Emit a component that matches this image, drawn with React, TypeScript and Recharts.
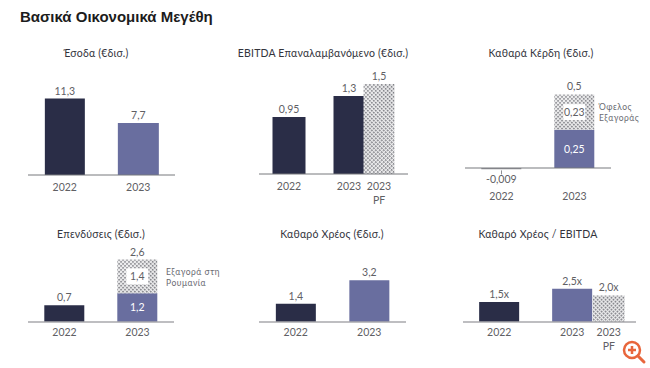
import React from 'react'
import { BarChart, Bar, Cell, XAxis, YAxis, LabelList, ReferenceLine, Rectangle } from 'recharts'

const DARK = '#2a2d47'
const PURPLE = '#696e9f'
const HATCH = 'url(#hatch)'
const TEXT = '#606064'
const FONT = 'Lato, "Noto Sans", sans-serif'

const years = ['2022', '2023']
const yearsPf = ['2022', ' ', '2023', '2023 PF']

const revenue = [11.3, 7.7]
const revenueLabels = ['11,3', '7,7']

const ebitda = [0.95, null, 1.3, 1.5]
const ebitdaLabels = ['0,95', null, '1,3', '1,5']

const profit = [-0.009, 0.25]
const profitAcquisition = [null, 0.23]
const profitTotals = [null, '0,5']

const capex = [0.7, 1.2]
const capexRomania = [null, 1.4]
const capexTotals = [null, '2,6']

const netDebt = [1.4, 3.2]
const netDebtLabels = ['1,4', '3,2']

const leverage = [1.5, null, 2.5, 2.0]
const leverageLabels = ['1,5x', null, '2,5x', '2,0x']

interface PanelProps {
  title: string
  titleX: number
  titleY: number
  left: number
  right: number
  top: number
  bottom: number
  domain: [number, number]
  categories: string[]
  base: (number | null)[]
  colors: string[]
  widths: number[]
  baseTop?: (string | null)[]
  baseCenter?: (string | null)[]
  baseBelow?: (string | null)[]
  extra?: (number | null)[]
  extraCenter?: (string | null)[]
  extraTop?: (string | null)[]
  padding?: { left: number; right: number }
  tickDy?: number
  tickMark?: boolean
  totalOffset?: number
  axisColor?: string
  axisWidth?: number
}

function YearTick({ x, y, payload, index, dy, tickMark }: any) {
  const parts = String(payload.value).split(' ')
  return (
    <g>
      {tickMark && index === 0 && <line x1={x} x2={x} y1={y - 1} y2={y + 3} stroke="#8f9095" />}
      <text x={x} y={y} textAnchor="middle" fontSize={10.5} fontFamily={FONT} fill={TEXT}>
        {parts.map((part: string, i: number) => (
          <tspan key={i} x={x} dy={i === 0 ? dy : 13.5}>{part}</tspan>
        ))}
      </text>
    </g>
  )
}

// white box behind the numbers that sit on the hatched part
function BoxedLabel({ x, y, width, height, value }: any) {
  if (value == null) return null
  const cx = x + width / 2
  const cy = y + height / 2
  return (
    <g>
      <rect x={cx - 11} y={cy - 8} width={22} height={16} fill="#fff" />
      <text x={cx} y={cy + 4} textAnchor="middle" fontSize={10.5} fontFamily={FONT} fill={TEXT}>{value}</text>
    </g>
  )
}

function BelowLabel({ x, y, width, value }: any) {
  if (value == null) return null
  return (
    <text x={x + width / 2} y={y + 14} textAnchor="middle" fontSize={10.5} fontFamily={FONT} fill={TEXT}>{value}</text>
  )
}

function Panel(props: PanelProps) {
  const { left, right, top, bottom, categories, widths } = props
  const rows = categories.map((name, i) => ({
    name,
    base: props.base[i],
    extra: props.extra?.[i] ?? null,
    baseTop: props.baseTop?.[i] ?? null,
    baseCenter: props.baseCenter?.[i] ?? null,
    baseBelow: props.baseBelow?.[i] ?? null,
    extraCenter: props.extraCenter?.[i] ?? null,
    extraTop: props.extraTop?.[i] ?? null,
  }))
  const plotHeight = bottom - top
  const labelStyle = { fontSize: 10.5, fontFamily: FONT, fill: TEXT }
  const sizedBar = (p: any) => {
    const w = widths[p.index]
    return <Rectangle x={p.x + (p.width - w) / 2} y={p.y} width={w} height={p.height} fill={p.fill} />
  }

  return (
    <>
      <div style={{
        position: 'absolute',
        left: props.titleX - 120,
        top: props.titleY - 8,
        width: 240,
        textAlign: 'center',
        fontFamily: FONT,
        fontSize: 10.5,
        lineHeight: '16px',
        letterSpacing: 0.2,
        color: '#33343c',
        whiteSpace: 'nowrap',
      }}>
        {props.title}
      </div>
      <div style={{ position: 'absolute', left, top }}>
        <BarChart
          width={right - left}
          height={plotHeight + 45}
          data={rows}
          margin={{ top: 0, right: 0, bottom: 0, left: 0 }}
        >
          <defs>
            <pattern id="hatch" patternUnits="userSpaceOnUse" width={2.8} height={2.8} patternTransform="rotate(45)">
              <rect width={2.8} height={2.8} fill="#eeeeef" />
              <rect width={1.6} height={1.6} fill="#77787e" />
            </pattern>
          </defs>
          <XAxis
            dataKey="name"
            interval={0}
            height={45}
            tickSize={0}
            tickLine={false}
            padding={props.padding ?? { left: 0, right: 0 }}
            axisLine={props.domain[0] === 0 ? { stroke: props.axisColor ?? '#77787c', strokeWidth: props.axisWidth ?? 1 } : false}
            tick={(p: any) => <YearTick {...p} dy={props.tickDy ?? 14} tickMark={props.tickMark} />}
          />
          <YAxis hide domain={props.domain} allowDataOverflow />
          <Bar dataKey="base" stackId="a" fill={DARK} isAnimationActive={false} shape={sizedBar}>
            {rows.map((_, i) => <Cell key={i} fill={props.colors[i]} />)}
            <LabelList dataKey="baseTop" position="top" offset={4} {...labelStyle} />
            <LabelList dataKey="baseCenter" position="center" {...labelStyle} fill="#ffffff" />
            <LabelList dataKey="baseBelow" content={<BelowLabel />} />
          </Bar>
          {props.extra && (
            <Bar dataKey="extra" stackId="a" fill={HATCH} isAnimationActive={false} shape={sizedBar}>
              <LabelList dataKey="extraCenter" content={<BoxedLabel />} />
              <LabelList dataKey="extraTop" position="top" offset={props.totalOffset ?? 4} {...labelStyle} />
            </Bar>
          )}
          {props.domain[0] !== 0 && <ReferenceLine y={0} stroke={props.axisColor ?? '#77787c'} />}
        </BarChart>
      </div>
    </>
  )
}

function Note({ x, y, lines }: { x: number; y: number; lines: string[] }) {
  return (
    <div style={{
      position: 'absolute',
      left: x,
      top: y,
      fontFamily: FONT,
      fontSize: 8.5,
      lineHeight: '10.5px',
      letterSpacing: 0.5,
      color: '#6a6b72',
      whiteSpace: 'nowrap',
    }}>
      {lines.map(line => <div key={line}>{line}</div>)}
    </div>
  )
}

export default function App() {
  return (
    <div style={{ position: 'absolute', left: 0, top: 0, width: 650, height: 368, background: '#fff', overflow: 'hidden' }}>
      <div style={{
        position: 'absolute',
        left: 20,
        top: 8,
        fontFamily: '"Liberation Sans", Arial, sans-serif',
        fontWeight: 700,
        fontSize: 15,
        lineHeight: '18px',
        color: '#1c1c1c',
        whiteSpace: 'nowrap',
      }}>
        Βασικά Οικονομικά Μεγέθη
      </div>

      <Panel
        title="Έσοδα (€δισ.)" titleX={96} titleY={53}
        left={28} right={175} top={65} bottom={175} domain={[0, 16.25]}
        categories={years} base={revenue} colors={[DARK, PURPLE]} widths={[40, 41]}
        baseTop={revenueLabels}
      />
      <Panel
        title="EBITDA Επαναλαμβανόμενο (€δισ.)" titleX={323} titleY={53}
        left={259} right={408} top={60} bottom={174} domain={[0, 1.9]}
        categories={yearsPf} base={ebitda} colors={[DARK, DARK, DARK, HATCH]} widths={[33, 0, 31, 31]}
        baseTop={ebitdaLabels}
        padding={{ left: 15, right: 14 }}
      />
      <Panel
        title="Καθαρά Κέρδη (€δισ.)" titleX={541} titleY={53}
        left={465} right={611} top={70} bottom={169.4} domain={[-0.009, 0.64]}
        categories={years} base={profit} colors={['#8f9095', PURPLE]} widths={[40, 40]}
        baseCenter={[null, '0,25']} baseBelow={['-0,009', null]}
        extra={profitAcquisition} extraCenter={[null, '0,23']} extraTop={profitTotals}
        tickDy={29} tickMark totalOffset={5}
      />
      <Note x={599} y={102} lines={['Όφελος', 'Εξαγοράς']} />

      <Panel
        title="Επενδύσεις (€δισ.)" titleX={101} titleY={234}
        left={28} right={174} top={235} bottom={322} domain={[0, 3.625]}
        categories={years} base={capex} colors={[DARK, PURPLE]} widths={[40, 40]}
        baseTop={['0,7', null]} baseCenter={[null, '1,2']}
        extra={capexRomania} extraCenter={[null, '1,4']} extraTop={capexTotals}
        tickDy={12} axisColor="#a9a9ac" axisWidth={1.5}
      />
      <Note x={166} y={267} lines={['Εξαγορά στη', 'Ρουμανία']} />

      <Panel
        title="Καθαρό Χρέος (€δισ.)" titleX={332} titleY={234}
        left={259} right={406} top={255} bottom={322} domain={[0, 5.15]}
        categories={years} base={netDebt} colors={[DARK, PURPLE]} widths={[40, 40]}
        baseTop={netDebtLabels}
        tickDy={12} axisColor="#a9a9ac" axisWidth={1.5}
      />
      <Panel
        title="Καθαρό Χρέος / EBITDA" titleX={538} titleY={234}
        left={463} right={636} top={255} bottom={322} domain={[0, 5.04]}
        categories={yearsPf} base={leverage} colors={[DARK, PURPLE, PURPLE, HATCH]} widths={[40, 0, 40, 32]}
        baseTop={leverageLabels}
        padding={{ left: 18, right: 9 }}
        tickDy={12} axisColor="#a9a9ac" axisWidth={1.5}
      />

      <svg width={30} height={30} style={{ position: 'absolute', left: 620, top: 338 }}>
        <circle cx={12} cy={12} r={8} fill="none" stroke="#e8663c" strokeWidth={2.5} />
        <path d="M8 12h8M12 8v8" stroke="#e8663c" strokeWidth={2.5} />
        <path d="M18 18l6 6" stroke="#e8663c" strokeWidth={3} strokeLinecap="round" />
      </svg>
    </div>
  )
}
